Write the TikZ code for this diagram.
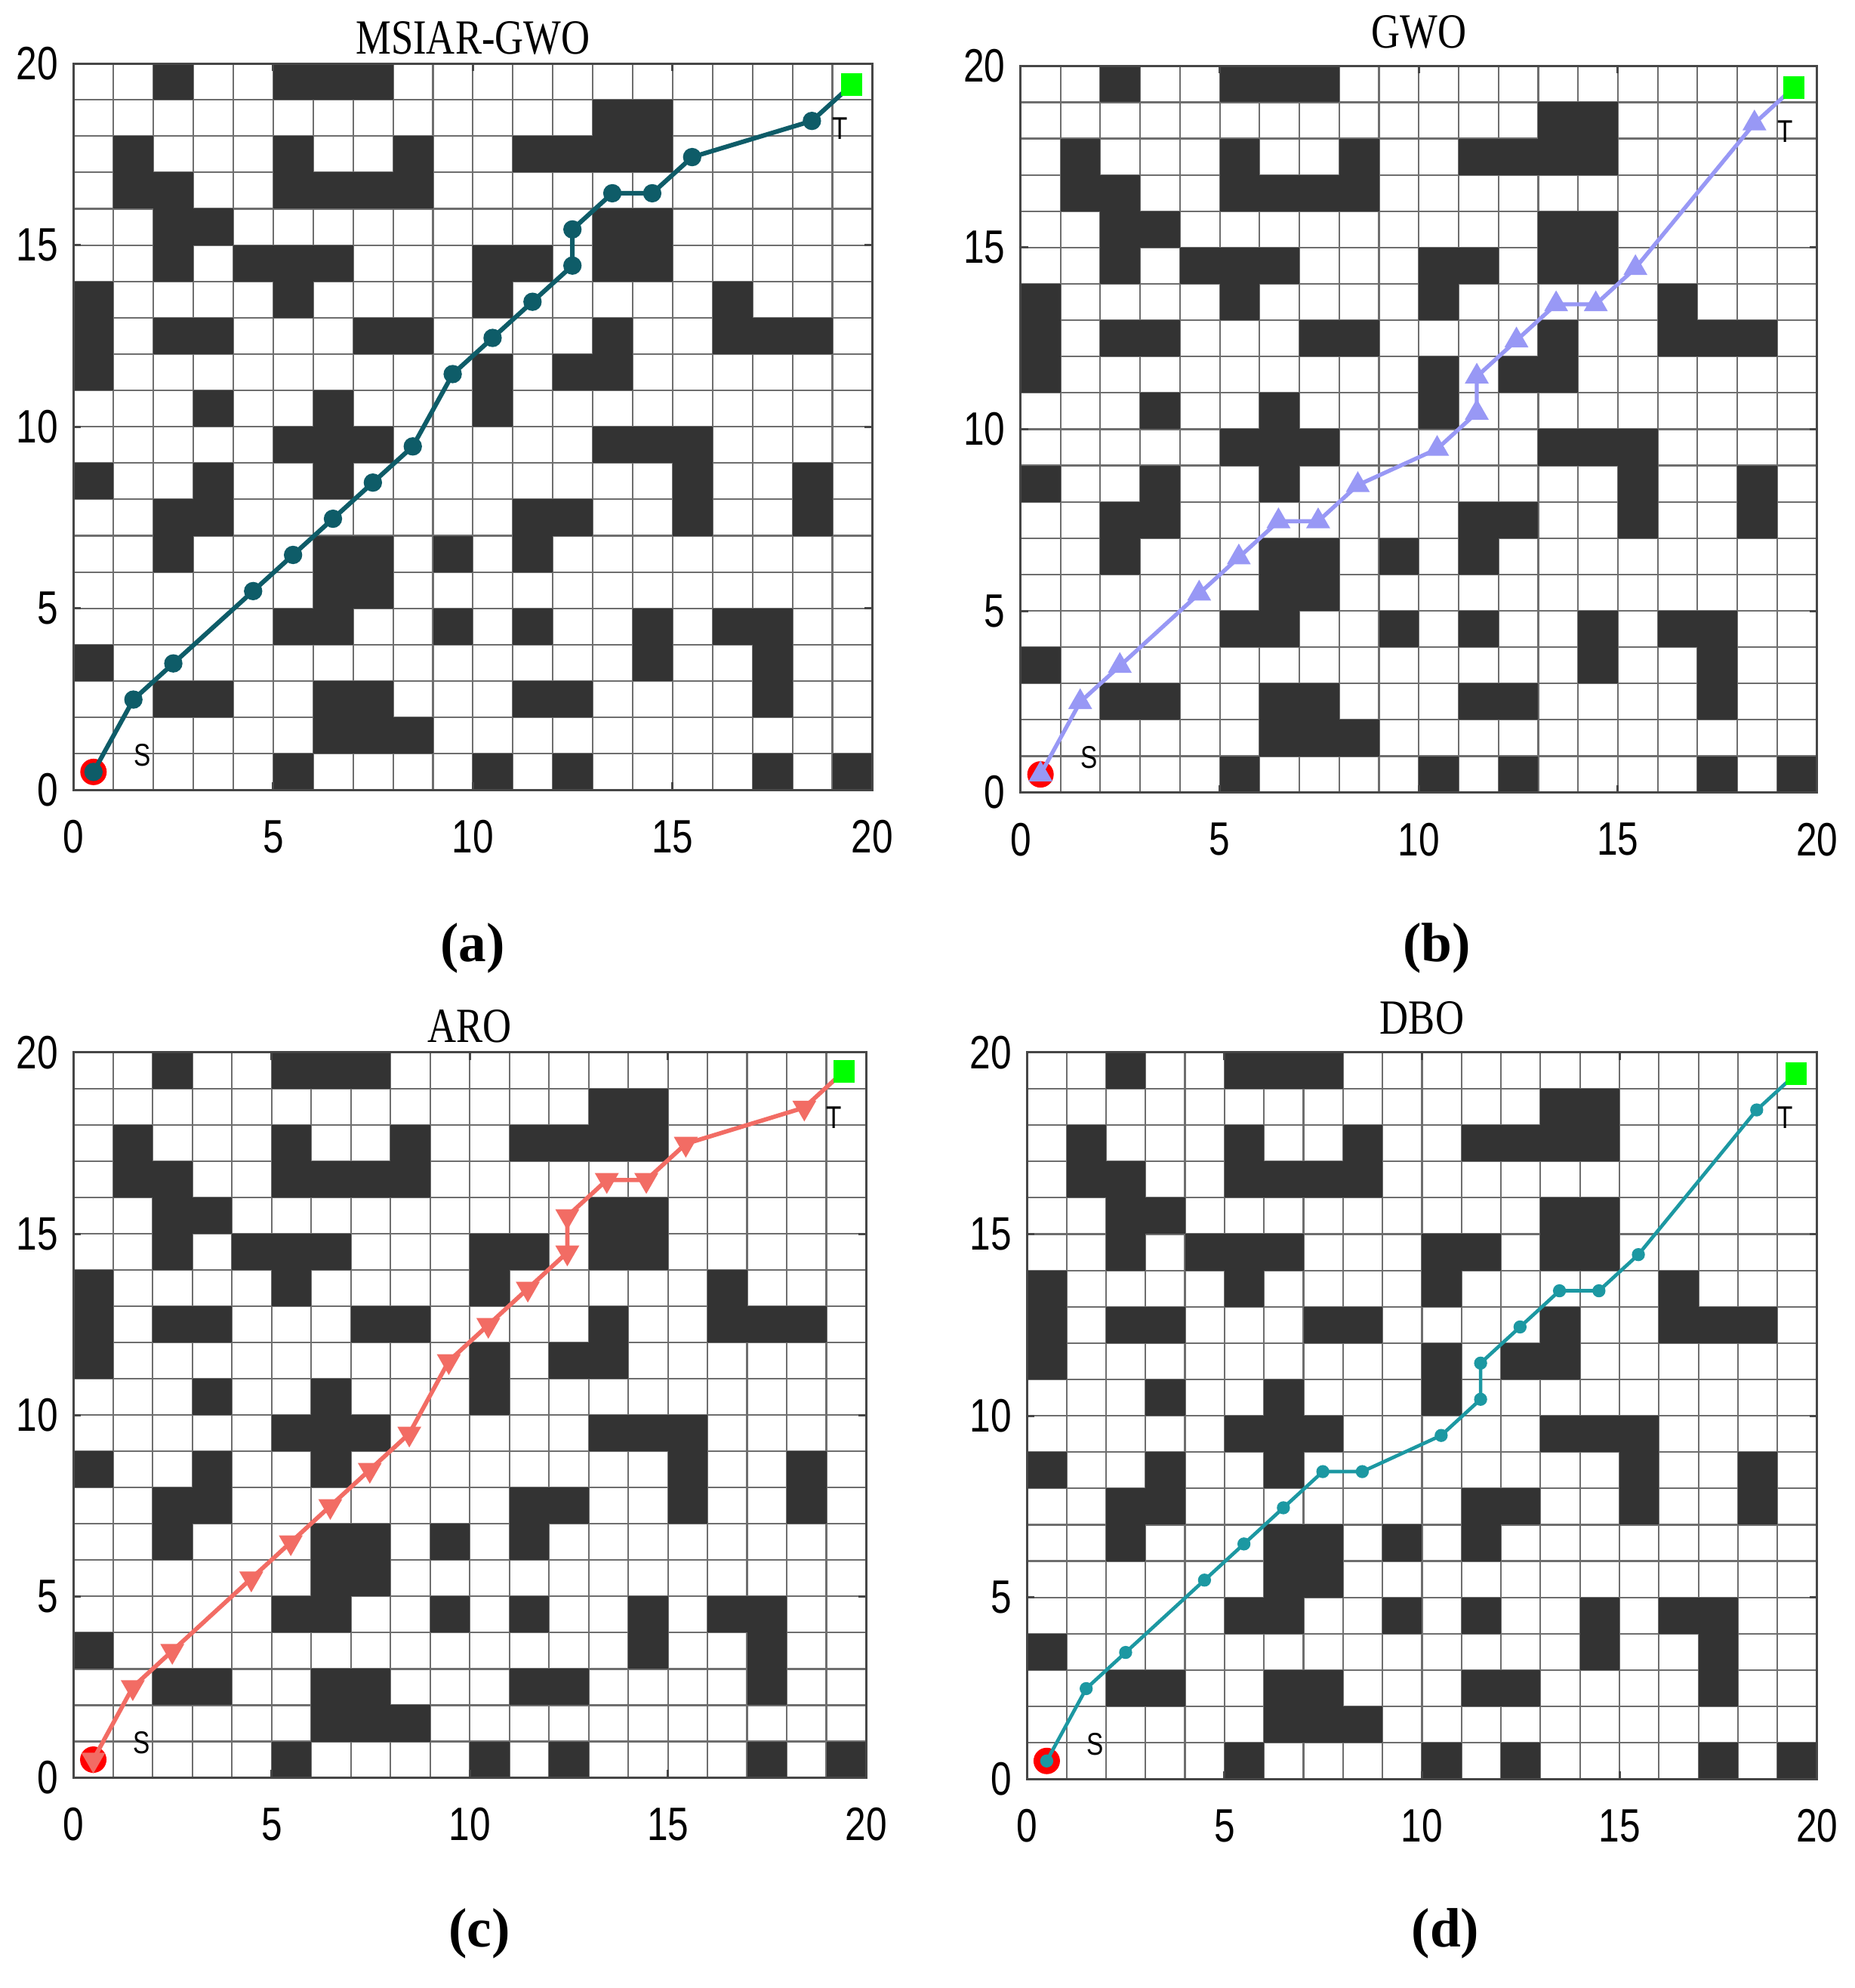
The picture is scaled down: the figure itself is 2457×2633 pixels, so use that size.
\documentclass[tikz,border=0pt]{standalone}
\usepackage{fontspec}
\setmainfont{Liberation Serif}
\setsansfont{Liberation Sans}
\usetikzlibrary{shapes.geometric}
\definecolor{obst}{RGB}{51,51,51}
\definecolor{gridc}{RGB}{110,110,110}
\definecolor{framec}{RGB}{70,70,70}
\definecolor{colA}{RGB}{14,92,104}
\definecolor{colB}{RGB}{152,152,245}
\definecolor{colC}{RGB}{242,108,100}
\definecolor{colD}{RGB}{28,152,162}
\definecolor{startc}{RGB}{255,0,0}
\definecolor{goalc}{RGB}{0,255,0}
\newcommand\sqz[1]{\scalebox{0.8}[1]{#1}}
\newcommand\obstlist{2/19,5/19,6/19,7/19,
13/18,14/18,
1/17,5/17,8/17,11/17,12/17,13/17,14/17,
1/16,2/16,5/16,6/16,7/16,8/16,
2/15,3/15,13/15,14/15,
2/14,4/14,5/14,6/14,10/14,11/14,13/14,14/14,
0/13,5/13,10/13,16/13,
0/12,2/12,3/12,7/12,8/12,13/12,16/12,17/12,18/12,
0/11,10/11,12/11,13/11,
3/10,6/10,10/10,
5/9,6/9,7/9,13/9,14/9,15/9,
0/8,3/8,6/8,15/8,18/8,
2/7,3/7,11/7,12/7,15/7,18/7,
2/6,6/6,7/6,9/6,11/6,
6/5,7/5,
5/4,6/4,9/4,11/4,14/4,16/4,17/4,
0/3,14/3,17/3,
2/2,3/2,6/2,7/2,11/2,12/2,17/2,
6/1,7/1,8/1,
5/0,10/0,12/0,17/0,19/0}
\newcommand\routeAC{0.5/0.5,1.5/2.5,2.5/3.5,4.5/5.5,5.5/6.5,6.5/7.5,7.5/8.5,8.5/9.5,9.5/11.5,10.5/12.5,11.5/13.5,12.5/14.5,12.5/15.5,13.5/16.5,14.5/16.5,15.5/17.5,18.5/18.5,19.5/19.5}
\newcommand\routeB{0.5/0.5,1.5/2.5,2.5/3.5,4.5/5.5,5.5/6.5,6.5/7.5,7.5/7.5,8.5/8.5,10.5/9.5,11.5/10.5,11.5/11.5,12.5/12.5,13.5/13.5,14.5/13.5,15.5/14.5,18.5/18.5,19.5/19.5}
\newcommand\routeD{0.5/0.5,1.5/2.5,2.5/3.5,4.5/5.5,5.5/6.5,6.5/7.5,7.5/8.5,8.5/8.5,10.5/9.5,11.5/10.5,11.5/11.5,12.5/12.5,13.5/13.5,14.5/13.5,15.5/14.5,18.5/18.5,19.5/19.5}
\tikzset{
  gridline/.style={draw=gridc,line width=0.65pt},
  frameline/.style={draw=framec,line width=0.9pt},
  tickst/.style={draw=framec,line width=0.9pt},
  ticklab/.style={font=\sffamily\fontsize{18.6}{20}\selectfont,inner sep=0pt,text=black},
  titlelab/.style={font=\fontsize{19.5}{21}\selectfont,inner sep=0pt,anchor=base},
  sublab/.style={font=\bfseries\fontsize{22}{24}\selectfont,inner sep=0pt},
  stlab/.style={font=\sffamily\fontsize{12.5}{14}\selectfont,inner sep=0pt},
  startdot/.style={circle,fill=startc,draw=none,minimum size=10.5pt,inner sep=0pt},
  goal/.style={rectangle,fill=goalc,draw=none,minimum width=8.4pt,minimum height=9pt,inner sep=0pt},
  pathA/.style={draw=colA,line width=1.8pt,line join=round},
  pathB/.style={draw=colB,line width=1.6pt,line join=round},
  pathC/.style={draw=colC,line width=1.7pt,line join=round},
  pathD/.style={draw=colD,line width=1.4pt,line join=round},
  mkA/.style={circle,fill=colA,draw=none,minimum size=7.3pt,inner sep=0pt},
  mkB/.style={regular polygon,regular polygon sides=3,fill=colB,draw=none,minimum size=11pt,inner sep=0pt},
  mkC/.style={regular polygon,regular polygon sides=3,shape border rotate=180,fill=colC,draw=none,minimum size=11pt,inner sep=0pt},
  mkD/.style={circle,fill=colD,draw=none,minimum size=5.2pt,inner sep=0pt},
  panelA/.style={shift={(97.4,1046.3)},xscale=52.9,yscale=-48.115},
  panelB/.style={shift={(1351.9,1049.6)},xscale=52.735,yscale=-48.115},
  panelC/.style={shift={(97.4,2354.5)},xscale=52.48,yscale=-48.03},
  panelD/.style={shift={(1360.3,2356.2)},xscale=52.315,yscale=-48.115}
}
\newcommand\drawmap[1]{%
  \fill[white] (0,0) rectangle (20,20);
  \foreach \k in {1,...,19} {\draw[gridline] (\k,0) -- (\k,20); \draw[gridline] (0,\k) -- (20,\k);}
  \foreach \c/\r in \obstlist {\fill[obst] (\c,\r) rectangle ++(1,1);}
  \draw[frameline] (0,0) rectangle (20,20);
  \foreach \v in {0,5,10,15,20} {
    \draw[tickst] (\v,0) -- (\v,0.21);
    \draw[tickst] (\v,20) -- (\v,19.79);
    \draw[tickst] (0,\v) -- (0.19,\v);
    \draw[tickst] (20,\v) -- (19.81,\v);
    \node[ticklab,anchor=east] (yl#1\v) at (-0.38,\v) {\sqz{\v}};
    \node[ticklab] (xl#1\v) at (\v,-1.29) {\sqz{\v}};
  }
  \node[stlab] (s#1) at (1.72,0.96) {\sqz{S}};
  \node[stlab] (t#1) at (19.2,18.2) {\sqz{T}};
}
\begin{document}
\begin{tikzpicture}[x=0.3pt,y=-0.3pt]
\fill[white] (0,0) rectangle (2457,2633);
\useasboundingbox (0,0) rectangle (2457,2633);

% ---------- (a) MSIAR-GWO ----------
\begin{scope}[panelA]
  \drawmap{a}
  \node[titlelab] (ta) at (10,20.27) {\scalebox{0.81}[1]{MSIAR-GWO}};
  \foreach \x/\y [count=\i] in \routeAC {\coordinate (pa\i) at (\x,\y);}
  \node[startdot] (sta) at (pa1) {};
  \draw[pathA] (pa1) \foreach \i in {2,...,18} {-- (pa\i)};
  \foreach \i in {1,...,17} {\node[mkA] (ma\i) at (pa\i) {};}
  \node[goal] (ga) at (pa18) {};
\end{scope}

% ---------- (b) GWO ----------
\begin{scope}[panelB]
  \drawmap{b}
  \node[titlelab] (tb) at (10,20.5) {\scalebox{0.81}[1]{GWO}};
  \foreach \x/\y [count=\i] in \routeB {\coordinate (pb\i) at (\x,\y);}
  \node[startdot] (stb) at (pb1) {};
  \draw[pathB] (pb1) \foreach \i in {2,...,17} {-- (pb\i)};
  \foreach \i in {1,...,16} {\node[mkB] (mb\i) at (pb\i) {};}
  \node[goal] (gb) at (pb17) {};
\end{scope}

% ---------- (c) ARO ----------
\begin{scope}[panelC]
  \drawmap{c}
  \node[titlelab] (tc) at (10,20.27) {\scalebox{0.81}[1]{ARO}};
  \foreach \x/\y [count=\i] in \routeAC {\coordinate (pc\i) at (\x,\y);}
  \node[startdot] (stc) at (pc1) {};
  \draw[pathC] (pc1) \foreach \i in {2,...,18} {-- (pc\i)};
  \foreach \i in {1,...,17} {\node[mkC] (mc\i) at (pc\i) {};}
  \node[goal] (gc) at (pc18) {};
\end{scope}

% ---------- (d) DBO ----------
\begin{scope}[panelD]
  \drawmap{d}
  \node[titlelab] (td) at (10,20.5) {\scalebox{0.81}[1]{DBO}};
  \foreach \x/\y [count=\i] in \routeD {\coordinate (pd\i) at (\x,\y);}
  \node[startdot] (std) at (pd1) {};
  \draw[pathD] (pd1) \foreach \i in {2,...,17} {-- (pd\i)};
  \foreach \i in {1,...,16} {\node[mkD] (md\i) at (pd\i) {};}
  \node[goal] (gd) at (pd17) {};
\end{scope}

% ---------- sub-captions ----------
\node[sublab] (capa) at (626,1256) {(a)};
\node[sublab] (capb) at (1902.8,1256) {(b)};
\node[sublab] (capc) at (634.8,2561) {(c)};
\node[sublab] (capd) at (1914.5,2561) {(d)};
\end{tikzpicture}
\end{document}
